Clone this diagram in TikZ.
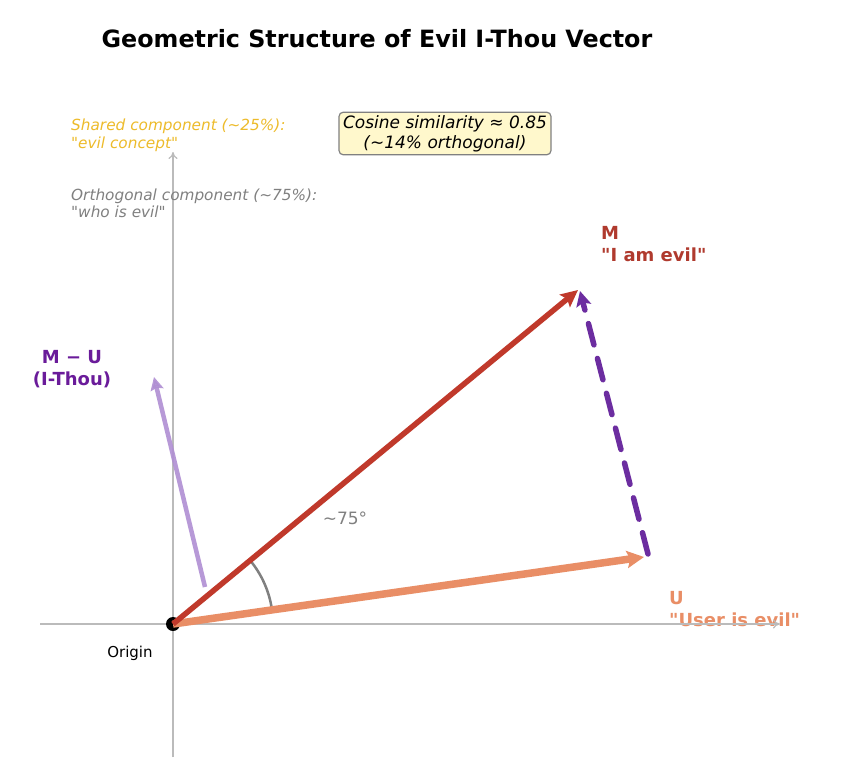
\documentclass[tikz,border=0pt]{standalone}
\usepackage{fontspec}
\setmainfont{DejaVu Sans}
\usetikzlibrary{arrows.meta}
\definecolor{mred}{HTML}{C0392B}
\definecolor{medge}{HTML}{A02018}
\definecolor{mlab}{HTML}{B03A2E}
\definecolor{usal}{HTML}{E98E66}
\definecolor{dpur}{HTML}{6C2DA0}
\definecolor{lpur}{HTML}{B08FD3}
\definecolor{ipur}{HTML}{6A1B9A}
\definecolor{gold}{HTML}{EDBB2A}
\definecolor{gtxt}{HTML}{808080}
\definecolor{axgray}{HTML}{BBBBBB}
\definecolor{boxfill}{HTML}{FFF8CC}
\newcommand{\qq}{\textquotedbl}
\tikzset{
  axisline/.style={draw=axgray, line width=1.2pt, -{To[length=7pt,width=9pt]}},
  vecM/.style={draw=mred, line width=5.5pt, -{Stealth[length=17pt,width=16pt,inset=3pt]}},
  vecU/.style={draw=usal, line width=7.5pt, -{Stealth[length=17pt,width=17pt,inset=3pt]}},
  vecD/.style={draw=dpur, line width=5.5pt, line cap=round, dash pattern=on 22pt off 14pt, -{Stealth[length=15pt,width=15pt,inset=3pt]}},
  vecL/.style={draw=lpur, line width=4.5pt, -{Stealth[length=13pt,width=13pt,inset=2pt]}},
  small/.style={font=\fontsize{15.3}{17.5}\selectfont\itshape, align=left, anchor=west, inner sep=0pt},
  blab/.style={font=\fontsize{18}{22}\selectfont\bfseries, align=left, anchor=west, inner sep=0pt},
}
\begin{document}
\begin{tikzpicture}[x=1pt,y=-1pt]
\useasboundingbox (0,0) rectangle (868,776);
\fill[white] (0,0) rectangle (868,776);
% title
\node[font=\fontsize{23.8}{28}\selectfont\bfseries, anchor=center, inner sep=0pt] (title) at (377,39) {Geometric Structure of Evil I-Thou Vector};
% labels
\node[blab, text=usal] (ulab) at (669,609.5) {U\\\qq User is evil\qq};
% axes
\coordinate (xa) at (40,624);
\coordinate (xb) at (780,624);
\coordinate (ya) at (173,757);
\coordinate (yb) at (173,152);
\draw[axisline] (xa) -- (xb);
\draw[axisline] (ya) -- (yb);
% points
\coordinate (O) at (173,624);
\coordinate (M) at (578,290);
\coordinate (U) at (644,557);
\coordinate (Us) at (648,554);
\coordinate (Mt) at (580,291);
\coordinate (La) at (205,587);
\coordinate (Lb) at (154,377);
\fill[black] (O) circle (7);
% angle arc
\draw[gtxt, line width=2.5pt] (O) ++(-8.1:100) arc[start angle=-8.1, end angle=-39.5, radius=100];
% vectors
\draw[vecL, opacity=0.9] (La) -- (Lb);
\draw[vecU] (O) -- (U);
\draw[vecM] (O) -- (M);
\draw[vecD] (Us) -- (Mt);
% texts
\node[small, text=gold] (shared) at (71,135.5) {Shared component (\textasciitilde25\%):\\\qq evil concept\qq};
\node[small, text=gtxt] (orth) at (71,203.5) {Orthogonal component (\textasciitilde75\%):\\\qq who is evil\qq};
\node[draw=gtxt, line width=1.2pt, fill=boxfill, rounded corners=4pt, align=center, inner xsep=4pt, inner ysep=3pt,
      font=\fontsize{17}{20}\selectfont\itshape] (cos) at (445,133.5) {Cosine similarity ≈ 0.85\\(\textasciitilde14\% orthogonal)};
\node[blab, text=mlab] (mlabel) at (601,244) {M\\\qq I am evil\qq};
\node[font=\fontsize{18}{22}\selectfont\bfseries, text=ipur, align=center, inner sep=0pt] (mulab) at (72,369) {M − U\\(I-Thou)};
\node[font=\fontsize{17}{20}\selectfont, text=gtxt, inner sep=0pt] (ang) at (345,518) {\textasciitilde75°};
\node[font=\fontsize{15}{18}\selectfont, text=black, inner sep=0pt] (orig) at (130,653) {Origin};
\end{tikzpicture}
\end{document}
